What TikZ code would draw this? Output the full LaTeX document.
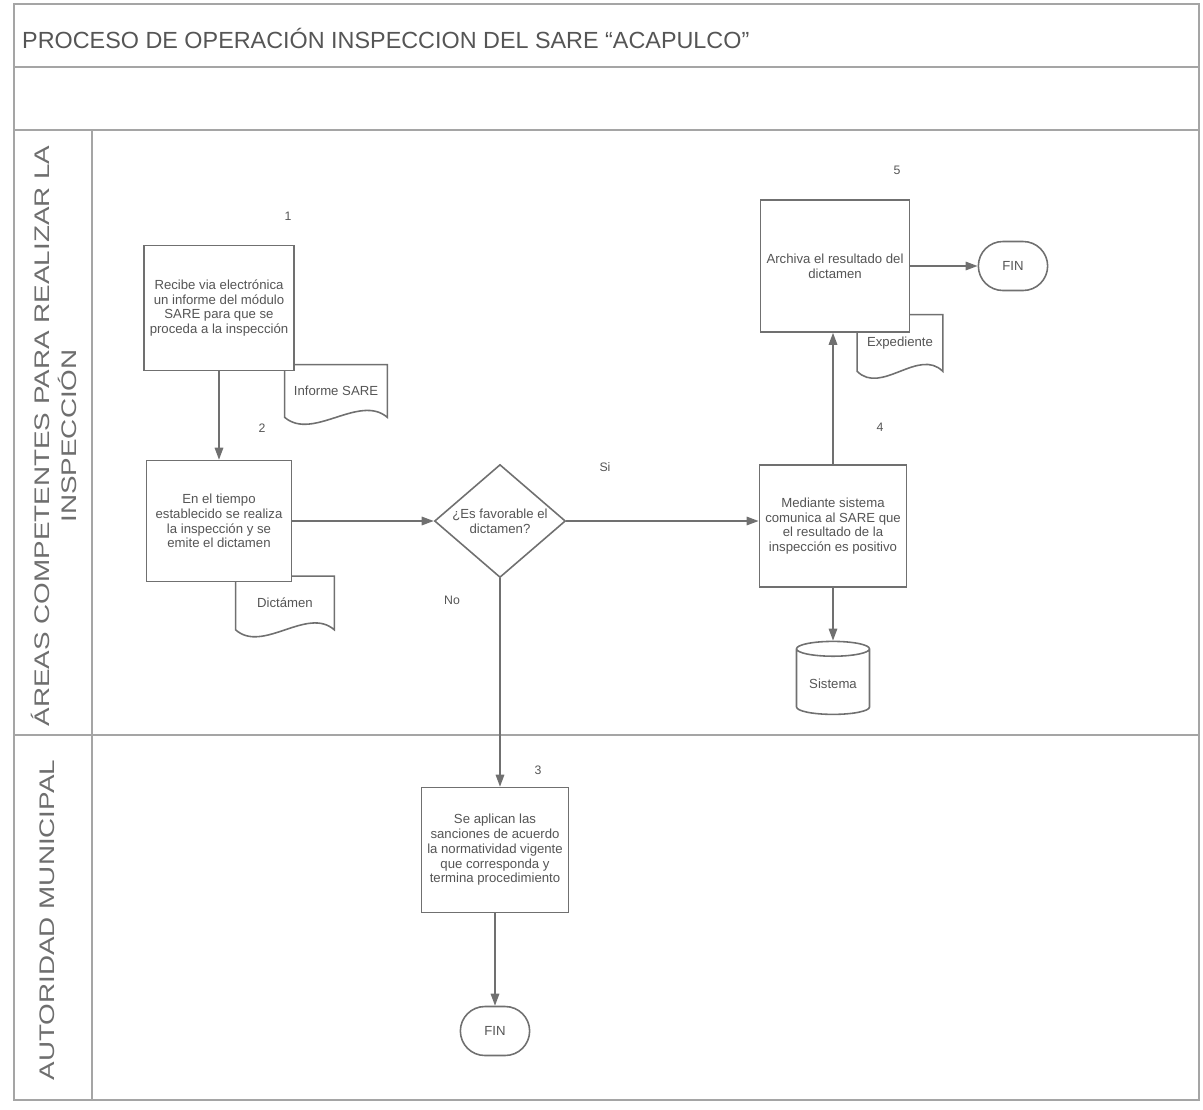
\documentclass[tikz,border=0pt]{standalone}
\usepackage{fontspec}
\setmainfont{Liberation Sans}
\newfontfamily\lanefont{Liberation Sans}[FakeStretch=1.32]
\usepackage{tikz}
\usetikzlibrary{positioning}
\usetikzlibrary{calc}
\usetikzlibrary{arrows.meta}
\usetikzlibrary{shapes.geometric,shapes.misc}
\definecolor{linegray}{RGB}{112,112,112}
\definecolor{framegray}{RGB}{165,165,165}
\definecolor{textgray}{RGB}{85,85,85}

\begin{document}
\begin{tikzpicture}[x=0.02cm,y=-0.02cm,
    linea/.style={draw=linegray,line width=0.9pt},
    marco/.style={draw=framegray,line width=0.8pt},
    proceso/.style={rectangle,linea,fill=white,text=textgray,align=center,
        minimum width=2.9cm,minimum height=2.5cm,font=\fontsize{7.5}{8.4}\selectfont},
    decision/.style={diamond,linea,fill=white,text=textgray,align=center,aspect=1.16,
        inner sep=0pt,minimum width=2.62cm,minimum height=2.26cm,font=\fontsize{7.5}{8.4}\selectfont},
    documento/.style={text=textgray,inner sep=0pt,font=\fontsize{7.5}{8.4}\selectfont},
    terminal/.style={rounded rectangle,linea,text=textgray,minimum width=1.62cm,
        minimum height=0.98cm,font=\fontsize{7.5}{8.4}\selectfont},
    base/.style={cylinder,shape border rotate=90,aspect=0.25,linea,text=textgray,
        minimum width=1.46cm,minimum height=1.46cm,font=\fontsize{7.5}{8.4}\selectfont},
    paso/.style={text=textgray,font=\fontsize{7}{8}\selectfont},
    carril/.style={text=textgray!85,font=\lanefont\fontsize{12}{15.3}\selectfont,rotate=90,align=center},
    >={Triangle[length=0.24cm,width=0.17cm]}]
    \useasboundingbox (0,0) rectangle (1203,1109);

    % marco y carriles
    \draw [marco] (14,4) rectangle (1199,1100);
    \draw [marco] (14,67) -- (1199,67);
    \draw [marco] (14,130) -- (1199,130);
    \draw [marco] (14,735) -- (1199,735);
    \draw [marco] (92,130) -- (92,1100);

    \node (titulo) [anchor=west,text=textgray,font=\fontsize{13.3}{15}\selectfont] at (16,38)
        {PROCESO DE OPERACIÓN INSPECCION DEL SARE “ACAPULCO”};
    \node (carril1) [carril] at (54,436) {ÁREAS COMPETENTES PARA REALIZAR LA\\INSPECCIÓN};
    \node (carril2) [carril] at (47,920) {AUTORIDAD MUNICIPAL};

    % documentos
    \node (informe) [documento,minimum width=2.04cm,minimum height=1.04cm] at (336,391) {Informe SARE};
    \draw [linea] (informe.north west) -- (informe.north east) -- (informe.south east)
        .. controls +(-28,-24) and +(28,24) .. (informe.south west) -- cycle;
    \node (dictamen) [documento,minimum width=1.96cm,minimum height=1.06cm] at (285,603) {Dictámen};
    \draw [linea] (dictamen.north west) -- (dictamen.north east) -- (dictamen.south east)
        .. controls +(-27,-24) and +(27,24) .. (dictamen.south west) -- cycle;
    \node (expediente) [documento,minimum width=1.7cm,minimum height=1.12cm] at (900,343) {Expediente};
    \draw [linea] (expediente.north west) -- (expediente.north east) -- (expediente.south east)
        .. controls +(-24,-24) and +(24,24) .. (expediente.south west) -- cycle;

    % pasos
    \node (paso1) [proceso] at (219,308) {Recibe via electrónica\\un informe del módulo\\SARE para que se\\proceda a la inspección};
    \node (paso2) [proceso,minimum height=2.42cm] at (219,521) {En el tiempo\\establecido se realiza\\la inspección y se\\emite el dictamen};
    \node (pregunta) [decision] at (500,521) {¿Es favorable el\\dictamen?};
    \node (paso3) [proceso] at (495,850) {Se aplican las\\sanciones de acuerdo\\la normatividad vigente\\que corresponda y\\termina procedimiento};
    \node (paso4) [proceso,minimum height=2.44cm] at (833,526) {Mediante sistema\\comunica al SARE que\\el resultado de la\\inspección es positivo};
    \node (paso5) [proceso,minimum height=2.64cm] at (835,266) {Archiva el resultado del\\dictamen};
    \node (sistema) [base] at (833,684) {Sistema};
    \node (fin1) [terminal] at (1013,266) {FIN};
    \node (fin2) [terminal] at (495,1031) {FIN};

    \node (n1) [paso] at (288,216) {1};
    \node (n2) [paso] at (262,428) {2};
    \node (n3) [paso] at (538,770) {3};
    \node (n4) [paso] at (880,427) {4};
    \node (n5) [paso] at (897,170) {5};
    \node (si) [paso] at (605,467) {Si};
    \node (no) [paso] at (452,600) {No};

    % flujo
    \draw [linea,->] (paso1.south) -- (paso2.north);
    \draw [linea,->] (paso2.east) -- (pregunta.west);
    \draw [linea,->] (pregunta.east) -- (pregunta.east -| paso4.west);
    \draw [linea,->] (paso4.north) -- (paso4.north |- paso5.south);
    \draw [linea,->] (paso5.east) -- (fin1.west);
    \draw [linea,->] (paso4.south) -- (sistema.north);
    \draw [linea,->] (pregunta.south) -- (pregunta.south |- paso3.north);
    \draw [linea,->] (paso3.south) -- (fin2.north);
\end{tikzpicture}
\end{document}
